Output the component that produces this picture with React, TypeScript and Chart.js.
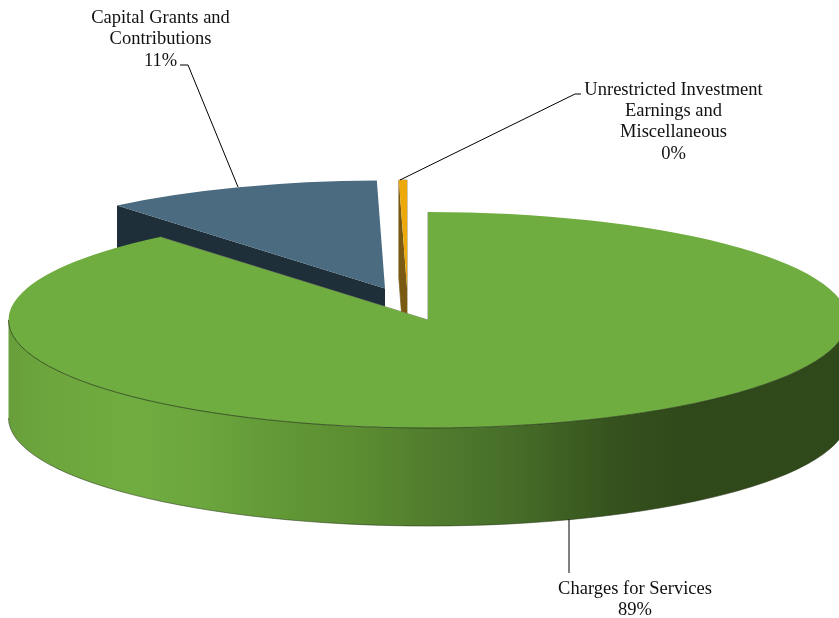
import React, { useEffect, useRef } from "react";
import { Chart, registerables } from "chart.js";

Chart.register(...registerables);

const categories = ["Charges for Services", "Capital Grants and Contributions", "Unrestricted Investment Earnings and Miscellaneous"];
const shares = [88.97, 10.72, 0.31];
const sliceColors = ["#70ad40", "#4a6b80", "#eda90a"];
const cutFaceColors = ["#2f4a1a", "#1f2f39", "#7a5a12"];

// Label layout: wrapped text lines, text centre, first baseline, and leader polyline.
const labelLines = [["Charges for Services"], ["Capital Grants and", "Contributions"], ["Unrestricted Investment", "Earnings and", "Miscellaneous"]];
const labelCentres = [[635, 593.5], [160.5, 23], [673.5, 94.5]];
const leaders = [
  [[569, 519], [569, 573]],
  [[238, 187], [188, 65], [180, 65]],
  [[400, 180], [575, 94], [581, 94]],
];

// Exploded slice displacement on screen, in pixels.
const explode = [[0, 0], [-43, -31.5], [-21, -32]];

const PIE_RADIUS = 419.5;
const TILT = 108 / 419.5;
const DEPTH = 98;
const LINE_HEIGHT = 21.4;
const FONT = '18.5px "Liberation Serif"';

// Horizontal shading of the outer rim, from the lit left side into the dark right side.
const rimStops: [number, string][] = [
  [9, "#689f3b"], [45, "#6ca53d"], [130, "#70ad40"], [200, "#6ca63e"], [280, "#629836"],
  [350, "#5c8e32"], [420, "#537f2e"], [500, "#48702a"], [560, "#3e6123"], [610, "#36531e"],
  [680, "#30491a"], [839, "#30491a"],
];

const pie3d = {
  id: "pie3d",
  beforeDatasetDraw(chart: any, args: any) {
    const ctx = chart.ctx as CanvasRenderingContext2D;
    const arcs = args.meta.data;
    const placed = (i: number, paint: () => void) => {
      const a = arcs[i];
      ctx.save();
      ctx.translate(a.x + explode[i][0], a.y + explode[i][1]);
      paint();
      ctx.restore();
    };

    // Back slices first: visible cut face, then the top surface.
    [1, 2].forEach((i) => {
      const a = arcs[i];
      placed(i, () => {
        const ex = Math.cos(a.startAngle) * a.outerRadius;
        const ey = Math.sin(a.startAngle) * a.outerRadius * TILT;
        const fx = Math.cos(a.endAngle) * a.outerRadius;
        const fy = Math.sin(a.endAngle) * a.outerRadius * TILT;
        // The narrow slice carries a soft tan outline around its silhouette.
        if (i === 2) {
          ctx.beginPath();
          ctx.moveTo(ex, ey);
          ctx.lineTo(fx, fy);
          ctx.lineTo(fx + 0.2, DEPTH);
          ctx.lineTo(0, DEPTH);
          ctx.lineTo(ex, ey + DEPTH);
          ctx.closePath();
          ctx.lineWidth = 1;
          ctx.strokeStyle = "rgba(130,110,60,0.75)";
          ctx.stroke();
        }
        ctx.beginPath();
        ctx.moveTo(0, 0);
        ctx.lineTo(ex, ey);
        ctx.lineTo(ex, ey + DEPTH);
        ctx.lineTo(0, DEPTH);
        ctx.closePath();
        ctx.fillStyle = cutFaceColors[i];
        ctx.fill();
        ctx.scale(1, TILT);
        ctx.translate(-a.x, -a.y);
        a.draw(ctx);
      });
    });

    // Front slice: outer rim from 3 o'clock round to 9 o'clock, then the top surface.
    const g = arcs[0];
    const rx = g.outerRadius;
    const ry = rx * TILT;
    const shade = ctx.createLinearGradient(0, 0, 839, 0);
    rimStops.forEach(([x, c]) => shade.addColorStop(x / 839, c));
    ctx.beginPath();
    ctx.ellipse(g.x, g.y, rx, ry, 0, 0, Math.PI);
    ctx.ellipse(g.x, g.y + DEPTH, rx, ry, 0, Math.PI, 0, true);
    ctx.closePath();
    ctx.fillStyle = shade;
    ctx.fill();

    ctx.beginPath();
    ctx.ellipse(g.x, g.y + DEPTH, rx, ry, 0, 0, Math.PI);
    ctx.lineWidth = 0.8;
    ctx.strokeStyle = "rgba(40,55,25,0.7)";
    ctx.stroke();

    // Thin grey edge along the two straight sides of the front slice.
    ctx.beginPath();
    ctx.moveTo(g.x + Math.cos(g.startAngle) * rx, g.y + Math.sin(g.startAngle) * ry);
    ctx.lineTo(g.x, g.y);
    ctx.lineTo(g.x + Math.cos(g.endAngle) * rx, g.y + Math.sin(g.endAngle) * ry);
    ctx.lineWidth = 1;
    ctx.strokeStyle = "rgba(120,125,105,0.8)";
    ctx.stroke();

    placed(0, () => {
      ctx.scale(1, TILT);
      ctx.translate(-g.x, -g.y);
      g.draw(ctx);
    });

    ctx.beginPath();
    ctx.ellipse(g.x, g.y, rx, ry, 0, 0, Math.PI);
    ctx.lineWidth = 0.9;
    ctx.strokeStyle = "rgba(35,55,20,0.85)";
    ctx.stroke();
    return false;
  },
  afterDraw(chart: any) {
    const ctx = chart.ctx as CanvasRenderingContext2D;
    ctx.save();
    ctx.strokeStyle = "#000";
    ctx.lineWidth = 1;
    leaders.forEach((pts) => {
      ctx.beginPath();
      pts.forEach(([x, y], i) => (i ? ctx.lineTo(x, y) : ctx.moveTo(x, y)));
      ctx.stroke();
    });
    ctx.fillStyle = "#111";
    ctx.font = FONT;
    ctx.textAlign = "center";
    ctx.textBaseline = "alphabetic";
    labelLines.forEach((lines, i) => {
      const [x, y] = labelCentres[i];
      [...lines, `${Math.round(shares[i])}%`].forEach((t, n) => ctx.fillText(t, x, y + n * LINE_HEIGHT));
    });
    ctx.restore();
  },
};

export default function App() {
  const ref = useRef<HTMLCanvasElement>(null);
  useEffect(() => {
    document.body.style.margin = "0";
    const chart = new Chart(ref.current!, {
      type: "pie",
      data: {
        labels: categories,
        datasets: [{ data: shares, backgroundColor: sliceColors, borderWidth: 0 }],
      },
      options: {
        responsive: false,
        animation: false,
        radius: PIE_RADIUS,
        layout: { padding: { left: 17, top: 22 } },
        plugins: { legend: { display: false }, tooltip: { enabled: false } },
      },
      plugins: [pie3d],
    } as any);
    return () => chart.destroy();
  }, []);
  return <canvas ref={ref} width={839} height={618} style={{ display: "block" }} />;
}
